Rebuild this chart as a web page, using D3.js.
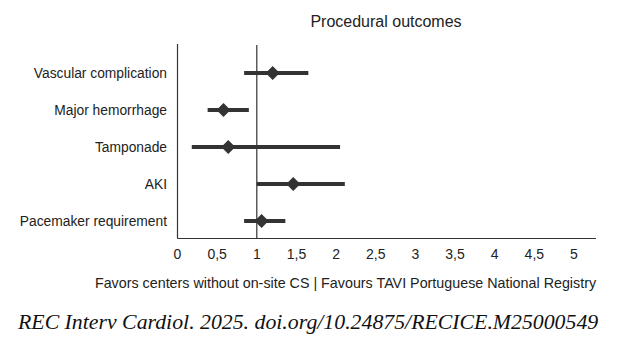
<!DOCTYPE html>
<html><head><meta charset="utf-8">
<script src="https://cdn.jsdelivr.net/npm/d3@7"></script>
<style>body{margin:0;background:#fff}</style>
</head><body>
<script>
const categories = ["Vascular complication","Major hemorrhage","Tamponade","AKI","Pacemaker requirement"];
const estimates = [1.20, 0.58, 0.64, 1.46, 1.06];
const lower = [0.84, 0.38, 0.18, 1.00, 0.84];
const upper = [1.65, 0.90, 2.05, 2.11, 1.36];
const tickValues = [0,0.5,1,1.5,2,2.5,3,3.5,4,4.5,5];
const tickLabels = ["0","0,5","1","1,5","2","2,5","3","3,5","4","4,5","5"];

(function(){
const W=617,H=339;
const svg=d3.select("body").append("svg").attr("width",W).attr("height",H);
const x=d3.scaleLinear().domain([0,5]).range([177.5,574]);
const y=d3.scalePoint().domain(categories).range([73,221]);
const plotTop=44, plotBottom=238.5, plotRight=596;
const col="#333";
const font="Liberation Sans, Arial, sans-serif";

svg.append("text").attr("x",386).attr("y",26.5).attr("text-anchor","middle")
  .attr("font-family",font).attr("font-size",16).attr("fill","#222").text("Procedural outcomes");

svg.append("line").attr("x1",x(0)).attr("x2",x(0)).attr("y1",plotTop).attr("y2",plotBottom).attr("stroke",col).attr("stroke-width",1.2);
svg.append("line").attr("x1",x(0)).attr("x2",plotRight).attr("y1",plotBottom).attr("y2",plotBottom).attr("stroke",col).attr("stroke-width",1.2);
svg.append("line").attr("x1",x(1)).attr("x2",x(1)).attr("y1",plotTop+1).attr("y2",plotBottom).attr("stroke",col).attr("stroke-width",1.2);

svg.selectAll("text.tick").data(tickValues).enter().append("text").attr("class","tick")
  .attr("x",d=>x(d)).attr("y",259).attr("text-anchor","middle")
  .attr("font-family",font).attr("font-size",14).attr("fill","#222")
  .text((d,i)=>tickLabels[i]);

svg.selectAll("text.cat").data(categories).enter().append("text").attr("class","cat")
  .attr("x",167).attr("y",d=>y(d)+5).attr("text-anchor","end")
  .attr("font-family",font).attr("font-size",13.8).attr("fill","#222").text(d=>d);

svg.selectAll("line.ci").data(categories).enter().append("line").attr("class","ci")
  .attr("x1",(d,i)=>x(lower[i])).attr("x2",(d,i)=>x(upper[i]))
  .attr("y1",d=>y(d)).attr("y2",d=>y(d)).attr("stroke",col).attr("stroke-width",4);

const s=7;
svg.selectAll("path.est").data(categories).enter().append("path").attr("class","est")
  .attr("transform",(d,i)=>`translate(${x(estimates[i])},${y(d)})`)
  .attr("d",`M0,${-s}L${s},0L0,${s}L${-s},0Z`).attr("fill",col);

svg.append("text").attr("x",345.5).attr("y",288).attr("text-anchor","middle")
  .attr("font-family",font).attr("font-size",14.3).attr("fill","#222")
  .text("Favors centers without on-site CS | Favours TAVI Portuguese National Registry");

svg.append("text").attr("x",18).attr("y",329).attr("font-family","Liberation Serif, Times New Roman, serif")
  .attr("font-style","italic").attr("font-size",21.8).attr("fill","#111")
  .text("REC Interv Cardiol. 2025. doi.org/10.24875/RECICE.M25000549");
})();
</script>
</body></html>
